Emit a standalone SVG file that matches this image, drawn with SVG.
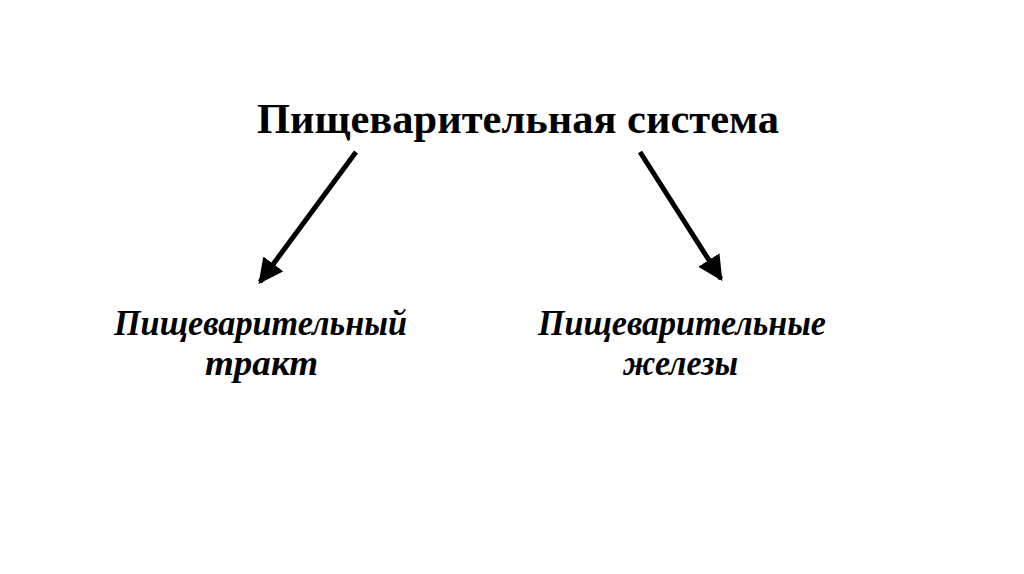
<svg xmlns="http://www.w3.org/2000/svg" width="1024" height="574" viewBox="0 0 1024 574">
<style>
.title{font-family:"Liberation Serif","Times New Roman",serif;font-weight:bold;font-size:42px;fill:#000}
.sub{font-family:"Liberation Serif","Times New Roman",serif;font-weight:bold;font-style:italic;font-size:35px;fill:#000}
.conn{stroke:#000;stroke-width:5;fill:none}
</style>
<defs>
<marker id="ah" viewBox="0 0 10 10" refX="9" refY="5" markerWidth="5" markerHeight="5" orient="auto" markerUnits="strokeWidth">
<path d="M0,0 L10,5 L0,10 z" fill="#000"/>
</marker>
</defs>
<rect width="1024" height="574" fill="#fff"/>
<g id="root">
<text class="title" x="518" y="133" text-anchor="middle" textLength="522" lengthAdjust="spacingAndGlyphs">Пищеварительная система</text>
</g>
<g id="tract">
<text class="sub" x="260.5" y="335" text-anchor="middle" textLength="293" lengthAdjust="spacingAndGlyphs">Пищеварительный</text>
<text class="sub" x="261.5" y="375" text-anchor="middle" textLength="113" lengthAdjust="spacingAndGlyphs">тракт</text>
</g>
<g id="glands">
<text class="sub" x="682" y="335" text-anchor="middle" textLength="288" lengthAdjust="spacingAndGlyphs">Пищеварительные</text>
<text class="sub" x="680.5" y="375" text-anchor="middle" textLength="115" lengthAdjust="spacingAndGlyphs">железы</text>
</g>
<g id="connectors">
<line class="conn" x1="356" y1="152" x2="260" y2="282" marker-end="url(#ah)"/>
<line class="conn" x1="640" y1="152" x2="721" y2="279" marker-end="url(#ah)"/>
</g>
</svg>
